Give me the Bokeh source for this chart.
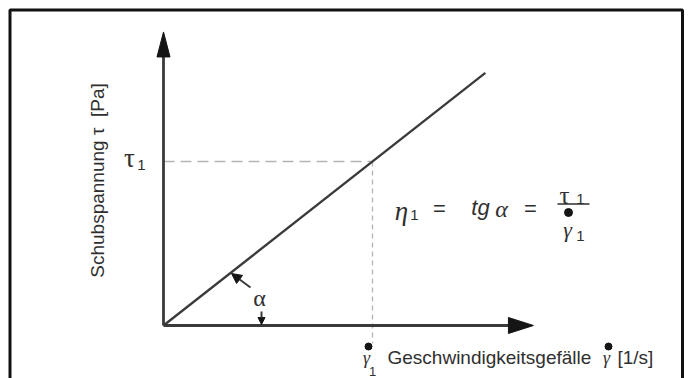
from bokeh.plotting import figure
from bokeh.models import Range1d, Arrow, NormalHead
from bokeh.core.properties import value
from bokeh.embed import file_html
from bokeh.resources import INLINE

# ---- data (conceptual flow curve of a Newtonian fluid) ----
gamma_1 = 1.0          # shear rate at working point
tau_1 = 1.0            # shear stress at working point
line_end_x = 1.54      # extent of the flow line along shear rate
x_axis_len = 1.77      # length of shear-rate axis (arrow tip)
y_axis_len = 1.79      # length of shear-stress axis (arrow tip)
dash_bottom = -0.11    # lower end of vertical guide line
x_label = "Geschwindigkeitsgefälle"
x_unit = "[1/s]"
y_label = "Schubspannung τ\u00a0\u00a0[Pa]"

# ---- layout ----
W, H = 688, 378
SX, SY = 209.0, 164.0           # pixels per data unit
OX, OY = 163.0, 325.0           # picture position of origin
PAGE = 0.0

def P(px, py):
    return (px - OX) / SX, (OY - py) / SY

x0 = (PAGE - OX) / SX
x1 = (PAGE + W - OX) / SX
y1 = (OY - PAGE) / SY
y0 = (OY - (PAGE + H)) / SY

p = figure(width=W, height=H, x_range=Range1d(x0, x1), y_range=Range1d(y0, y1),
           output_backend="svg", toolbar_location=None, min_border=0)
p.axis.visible = False
p.grid.visible = False
p.outline_line_color = None
p.background_fill_color = "white"
p.border_fill_color = "white"

AX = "#3a3a3a"
TX = "#2f2f2f"
DASH = "#b4b4b4"
DOT = "#151515"

# frame border (left, top, right)
bl, bt = P(9.5, 9.5)
br, _ = P(682, 9.5)
p.line([bl, bl, br, br], [y0 - 1, bt, bt, y0 - 1], line_color="#111111", line_width=3)

# guide dashed lines
slope = tau_1 / gamma_1
p.line([0, gamma_1], [tau_1, tau_1], line_color=DASH, line_width=1.5, line_dash="11 6")
p.line([gamma_1, gamma_1], [tau_1, dash_bottom], line_color=DASH, line_width=1.3, line_dash="5 4")

# axes with arrow heads
yh = 25 / SY
xh = 25 / SX
p.line([0, 0], [0, y_axis_len - yh], line_color=AX, line_width=2.8)
p.line([0, x_axis_len - xh], [0, 0], line_color=AX, line_width=2.8)
p.patch([-6.5 / SX, 0, 6.5 / SX], [y_axis_len - yh, y_axis_len, y_axis_len - yh],
        fill_color=DOT, line_color=DOT)
p.patch([x_axis_len - xh, x_axis_len, x_axis_len - xh], [-8 / SY, 0, 8 / SY],
        fill_color=DOT, line_color=DOT)

# flow line
p.line([0, line_end_x], [0, line_end_x * slope], line_color=AX, line_width=2.3)

def txt(px, py, s, size, font="Liberation Sans", style="normal", align="center",
        angle=0, color=TX):
    x, y = P(px, py)
    p.text(x=[x], y=[y], text=[s], text_font=value(font), text_font_size=f"{size}px",
           text_font_style=style, text_align=align, text_baseline="middle",
           angle=angle, text_color=color)

def dot(px, py, size=7):
    x, y = P(px, py)
    p.scatter(x=[x], y=[y], size=size, marker="circle", fill_color=DOT, line_color=DOT)

# y label
txt(97, 180, y_label, 19, angle=1.5707963)
# tau_1 label
txt(129, 157, "τ", 27, font="Liberation Serif")
txt(141, 164, "1", 15)

# x label pieces
txt(366, 357, "γ", 18, font="Liberation Serif", style="italic")
dot(368, 346)
txt(372, 371, "1", 13)
txt(387, 357, x_label, 19, align="left")
txt(606, 357, "γ", 18, font="Liberation Serif", style="italic")
dot(608, 346)
txt(617, 357, x_unit, 19, align="left")

# formula
txt(401, 210, "η", 27, font="Liberation Serif", style="italic")
txt(414, 214, "1", 15)
txt(439, 208, "=", 22)
txt(480, 207, "tg", 22, style="italic")
txt(501, 208, "α", 24, font="Liberation Serif", style="italic")
txt(530, 208, "=", 22)
txt(564, 195, "τ", 25, font="Liberation Serif")
txt(580, 198, "1", 15)
fx0, fy = P(557, 203.5)
fx1, _ = P(589, 203.5)
p.line([fx0, fx1], [fy, fy], line_color=TX, line_width=1.5)
dot(568, 212, 8)
txt(567, 229, "γ", 22, font="Liberation Serif", style="italic")
txt(580, 235, "1", 15)

# angle alpha
txt(259, 297, "α", 24, font="Liberation Serif")
ax_s, ay_s = P(250, 287)
ax_e, ay_e = P(231, 273)
p.add_layout(Arrow(x_start=ax_s, y_start=ay_s, x_end=ax_e, y_end=ay_e,
                   line_color=AX, line_width=2,
                   end=NormalHead(size=10, fill_color=DOT, line_color=DOT)))
bx_s, by_s = P(261, 311)
bx_e, by_e = P(261, 324)
p.add_layout(Arrow(x_start=bx_s, y_start=by_s, x_end=bx_e, y_end=by_e,
                   line_color=AX, line_width=2,
                   end=NormalHead(size=7, fill_color=DOT, line_color=DOT)))

open("out.html", "w").write(file_html(p, INLINE))
